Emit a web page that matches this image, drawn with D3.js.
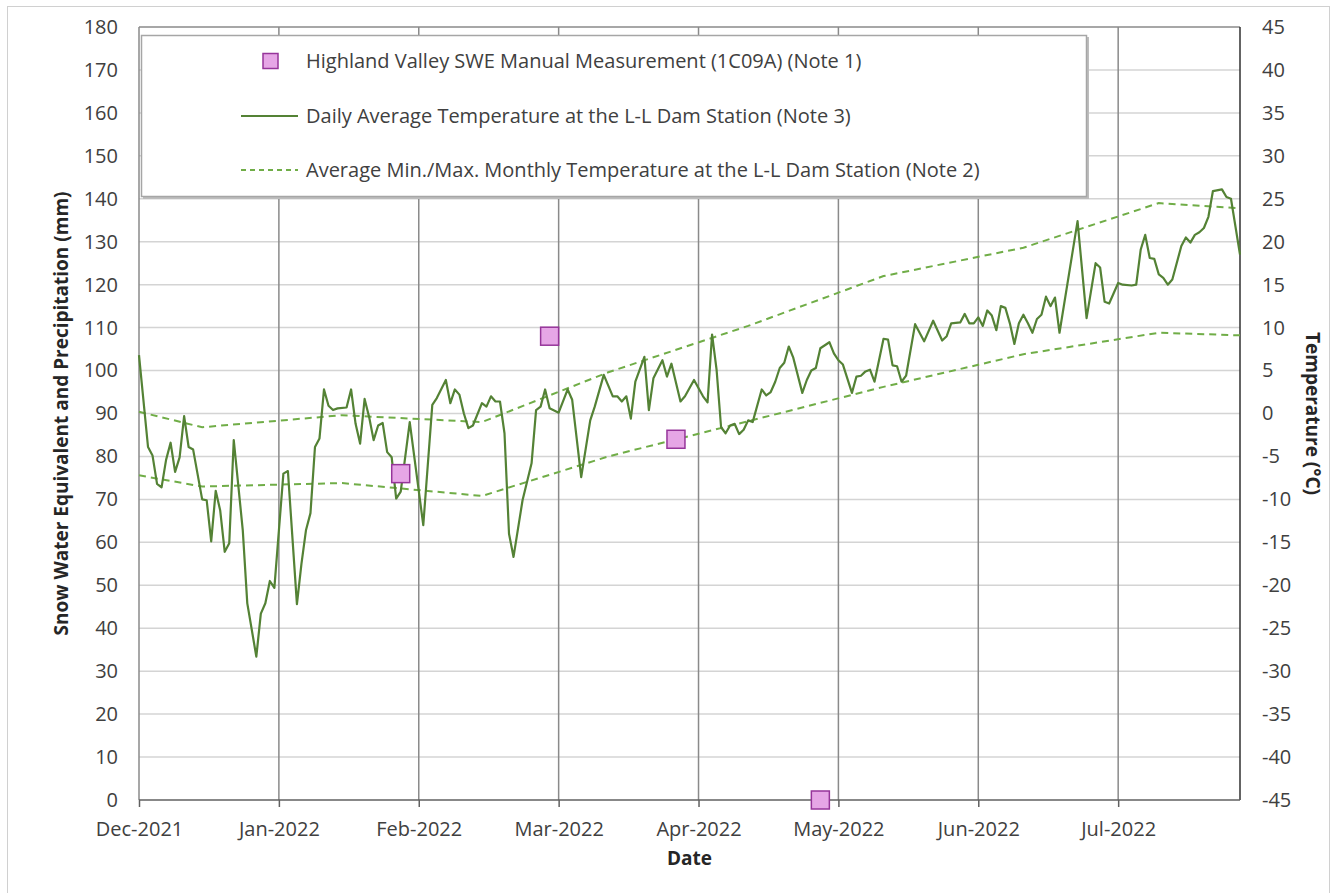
<!DOCTYPE html>
<html>
<head>
<meta charset="utf-8">
<script src="https://cdn.jsdelivr.net/npm/d3@7"></script>
<style>
  body { margin: 0; background: #fff; }
  text { font-family: "Open Sans", sans-serif; }
</style>
</head>
<body>
<svg id="chart" width="1331" height="893"></svg>
<script>
// Daily average temperature at the L-L Dam station (deg C), day = days since 1 Dec 2021
var tempDay = [0, 2, 3, 4, 5, 6, 7, 8, 9, 10, 11, 12, 14, 15, 16, 17, 18, 19, 20, 21, 23, 24, 26, 27, 28, 29, 30,
  32, 33, 35, 36, 37, 38, 39, 40, 41, 42, 43, 44, 46, 47, 48, 49, 50, 51, 52, 53, 54, 55, 56, 57, 58, 60,
  63, 65, 66, 68, 69, 70, 71, 72, 73, 74, 76, 77, 78, 79, 80, 81, 82, 83, 85, 87, 88, 89, 90, 91, 93, 95, 96,
  98, 100, 101, 103, 105, 106, 107, 108, 109, 110, 112, 113, 114, 116, 117, 118, 120, 121, 123, 125, 126,
  127, 128, 129, 130, 131, 132, 133, 134, 135, 136, 138, 139, 140, 141, 142, 143, 144, 145, 147, 148, 149,
  150, 151, 153, 154, 155, 156, 158, 159, 160, 161, 162, 163, 165, 166, 167, 168, 169, 170, 172, 174, 176,
  178, 179, 180, 182, 183, 184, 185, 186, 187, 188, 189, 190, 191, 192, 193, 194, 195, 196, 197, 198, 199,
  200, 201, 202, 203, 204, 208, 210, 212, 213, 214, 215, 216, 217, 218, 220, 221, 222, 223, 224, 225, 226,
  227, 228, 229, 231, 232, 233, 234, 235, 236, 237, 238, 240, 241, 242, 244]
var tempAvg = [6.8, -3.9, -4.9, -8.2, -8.6, -5.4, -3.4, -6.8, -5.1, -0.3, -3.9, -4.2, -10, -10.1, -14.9, -9, -11.3, -16.1, -15.1, -3.1, -13.6, -22.1, -28.3, -23.3, -22.1, -19.5, -20.3,
  -7, -6.7, -22.2, -17.5, -13.6, -11.6, -3.9, -2.9, 2.8, 0.9, 0.4, 0.6, 0.7, 2.8, -1.2, -3.5, 1.7, -0.4, -3.1, -1.4, -1.1, -4.5, -5.1, -9.9, -9.1, -1,
  -13, 1, 1.8, 3.9, 1.2, 2.8, 2.2, 0, -1.7, -1.4, 1.2, 0.8, 2, 1.4, 1.4, -2.3, -14, -16.7, -10.1, -5.8, 0.4, 0.8, 2.8, 0.6, 0.1, 2.8, 1.6,
  -7.4, -0.8, 0.8, 4.5, 2, 2, 1.4, 2, -0.6, 3.7, 6.6, 0.4, 4.1, 6.2, 4.3, 5.8, 1.4, 2, 3.9, 2, 1.3,
  9.2, 5.1, -1.6, -2.3, -1.4, -1.2, -2.4, -1.9, -0.8, -1, 2.8, 2.1, 2.5, 3.7, 5.3, 5.9, 7.8, 6.5, 2.4, 3.9, 5,
  5.3, 7.6, 8.3, 7, 6.2, 5.7, 2.4, 4.3, 4.4, 4.9, 5.1, 3.7, 8.7, 8.6, 5.6, 5.5, 3.7, 4.4, 10.4, 8.4, 10.8,
  8.5, 9, 10.5, 10.6, 11.6, 10.5, 10.5, 11.2, 10.2, 12, 11.4, 9.7, 12.5, 12.3, 10.5, 8.1, 10.5, 11.5, 10.5, 9.4, 11,
  11.5, 13.6, 12.5, 13.5, 9.4, 22.4, 11.1, 17.5, 17, 13, 12.8, 14, 15.2, 15, 14.9, 15, 19.1, 20.8, 18.1, 18, 16.2,
  15.8, 15, 15.6, 19.5, 20.5, 19.9, 20.8, 21.1, 21.6, 22.9, 25.9, 26.1, 25.2, 25, 18.5]

// Average min./max. monthly temperature (deg C)
var monthDates = ["2021-12-01", "2021-12-15", "2022-01-15", "2022-02-15", "2022-03-15", "2022-04-15",
  "2022-05-15", "2022-06-15", "2022-07-15", "2022-08-02"]
var monthMax = [0.2, -1.6, -0.2, -1.0, 4.8, 10.2, 16.0, 19.3, 24.5, 23.9]
var monthMin = [-7.2, -8.5, -8.1, -9.6, -5.0, -0.9, 3.1, 6.9, 9.4, 9.1]

// Highland Valley SWE manual measurements (mm)
var sweDates = ["2022-01-28", "2022-03-02", "2022-03-30", "2022-05-01"]
var sweValues = [76, 108, 84, 0]

// axis ticks
var leftTicks = [0, 10, 20, 30, 40, 50, 60, 70, 80, 90, 100, 110, 120, 130, 140, 150, 160, 170, 180]
var rightTicks = [-45, -40, -35, -30, -25, -20, -15, -10, -5, 0, 5, 10, 15, 20, 25, 30, 35, 40, 45]
var dateTickDays = [0, 31, 62, 93, 124, 155, 186, 217]

var legendLabels = [
  "Highland Valley SWE Manual Measurement (1C09A) (Note 1)",
  "Daily Average Temperature at the L-L Dam Station (Note 3)",
  "Average Min./Max. Monthly Temperature at the L-L Dam Station (Note 2)"
]

var width = 1331
var height = 893
var margin = {top: 27, right: 91, bottom: 93, left: 139}

var lineColor = "#548235"
var dashColor = "#70AD47"

var parse = d3.timeParse("%Y-%m-%d")
var start = new Date(2021, 11, 1)
var dayToDate = d => d3.timeDay.offset(start, d)

let svg = d3.select("#chart")

// outer chart frame
svg.append("rect")
  .attr("x", 7.5).attr("y", 6.5)
  .attr("width", 1322).attr("height", 900)
  .attr("fill", "#fff")
  .attr("stroke", "#d0d0d0")

var x = d3.scaleTime()
  .domain([start, dayToDate(244)])
  .range([margin.left, width - margin.right])

var yL = d3.scaleLinear()
  .domain([0, 180])
  .range([height - margin.bottom, margin.top])

var yR = d3.scaleLinear()
  .domain([-45, 45])
  .range([height - margin.bottom, margin.top])

var x0 = margin.left, x1 = width - margin.right
var y0 = height - margin.bottom, y1 = margin.top

// horizontal gridlines
svg.append("g")
  .selectAll("line")
  .data(leftTicks.filter(d => d > 0 && d < 180))
  .join("line")
  .attr("x1", x0).attr("x2", x1)
  .attr("y1", d => yL(d)).attr("y2", d => yL(d))
  .attr("stroke", "#d4d4d4")
  .attr("stroke-width", 1.5)

// vertical gridlines at the month ticks
svg.append("g")
  .selectAll("line")
  .data(dateTickDays.filter(d => d > 0))
  .join("line")
  .attr("x1", d => x(dayToDate(d))).attr("x2", d => x(dayToDate(d)))
  .attr("y1", y1).attr("y2", y0)
  .attr("stroke", "#8a8a8a")
  .attr("stroke-width", 1.5)

// plot borders
svg.append("line").attr("x1", x0).attr("x2", x1).attr("y1", y1).attr("y2", y1)
  .attr("stroke", "#8a8a8a").attr("stroke-width", 1.5)
svg.append("line").attr("x1", x0).attr("x2", x0).attr("y1", y1).attr("y2", y0)
  .attr("stroke", "#8a8a8a").attr("stroke-width", 1.5)
svg.append("line").attr("x1", x1).attr("x2", x1).attr("y1", y1).attr("y2", y0)
  .attr("stroke", "#303030").attr("stroke-width", 1.5)
svg.append("line").attr("x1", x0).attr("x2", x1).attr("y1", y0).attr("y2", y0)
  .attr("stroke", "#606060").attr("stroke-width", 1.5)

// axes (plain hyphen for negatives, like the original)
var leftAxis = svg.append("g")
  .attr("transform", "translate(" + x0 + ",0)")
  .call(d3.axisLeft(yL).tickValues(leftTicks).tickFormat(d => String(d)).tickSize(0).tickPadding(21))
var rightAxis = svg.append("g")
  .attr("transform", "translate(" + x1 + ",0)")
  .call(d3.axisRight(yR).tickValues(rightTicks).tickFormat(d => String(d)).tickSize(0).tickPadding(22))
var bottomAxis = svg.append("g")
  .attr("transform", "translate(0," + y0 + ")")
  .call(d3.axisBottom(x)
    .tickValues(dateTickDays.map(dayToDate))
    .tickFormat(d3.timeFormat("%b-%Y"))
    .tickSize(7)
    .tickPadding(15))

;[leftAxis, rightAxis, bottomAxis].forEach(function (a) {
  a.select(".domain").remove()
  a.selectAll("text")
    .attr("fill", "#404040")
    .style("font-size", "20px")
    .style("font-family", "'Open Sans', sans-serif")
  a.selectAll(".tick line").attr("stroke", "#606060").attr("stroke-width", 1.5)
})

// axis titles
svg.append("text")
  .attr("transform", "translate(68," + ((y0 + y1) / 2) + ") rotate(-90)")
  .attr("text-anchor", "middle")
  .attr("fill", "#262626")
  .style("font-size", "19px")
  .style("font-weight", "bold")
  .text("Snow Water Equivalent and Precipitation (mm)")

svg.append("text")
  .attr("transform", "translate(1306," + ((y0 + y1) / 2) + ") rotate(90)")
  .attr("text-anchor", "middle")
  .attr("fill", "#262626")
  .style("font-size", "19px")
  .style("font-weight", "bold")
  .text("Temperature (°C)")

svg.append("text")
  .attr("x", (x0 + x1) / 2)
  .attr("y", 865)
  .attr("text-anchor", "middle")
  .attr("fill", "#262626")
  .style("font-size", "19px")
  .style("font-weight", "bold")
  .text("Date")

// min / max monthly temperature
var monthLine = d3.line()
  .x((d, i) => x(parse(monthDates[i])))
  .y(d => yR(d))

svg.append("path")
  .attr("d", monthLine(monthMax))
  .attr("fill", "none")
  .attr("stroke", dashColor)
  .attr("stroke-width", 2)
  .attr("stroke-dasharray", "7,5")

svg.append("path")
  .attr("d", monthLine(monthMin))
  .attr("fill", "none")
  .attr("stroke", dashColor)
  .attr("stroke-width", 2)
  .attr("stroke-dasharray", "7,5")

// daily average temperature
svg.append("path")
  .attr("d", d3.line()
    .x((d, i) => x(dayToDate(tempDay[i])))
    .y(d => yR(d))(tempAvg))
  .attr("fill", "none")
  .attr("stroke", lineColor)
  .attr("stroke-width", 2.2)
  .attr("stroke-linejoin", "round")

// SWE manual measurements
svg.append("g")
  .selectAll("rect")
  .data(sweValues)
  .join("rect")
  .attr("x", (d, i) => x(parse(sweDates[i])) - 9)
  .attr("y", d => yL(d) - 9)
  .attr("width", 18)
  .attr("height", 18)
  .attr("fill", "#E6A6E6")
  .attr("stroke", "#96359A")
  .attr("stroke-width", 1.5)

// legend
var legend = svg.append("g")

legend.append("rect")
  .attr("x", 143).attr("y", 37)
  .attr("width", 946).attr("height", 162)
  .attr("fill", "#bdbdbd")
legend.append("rect")
  .attr("x", 141.5).attr("y", 35.5)
  .attr("width", 945).attr("height", 161)
  .attr("fill", "#fff")
  .attr("stroke", "#a6a6a6")
  .attr("stroke-width", 1.5)

var rowY = [61, 116, 170]

legend.append("rect")
  .attr("x", 263).attr("y", rowY[0] - 7.5)
  .attr("width", 15).attr("height", 15)
  .attr("fill", "#E6A6E6")
  .attr("stroke", "#96359A")
  .attr("stroke-width", 1.5)

legend.append("line")
  .attr("x1", 241).attr("x2", 298)
  .attr("y1", rowY[1]).attr("y2", rowY[1])
  .attr("stroke", lineColor)
  .attr("stroke-width", 2)

legend.append("line")
  .attr("x1", 241).attr("x2", 298)
  .attr("y1", rowY[2]).attr("y2", rowY[2])
  .attr("stroke", dashColor)
  .attr("stroke-width", 2)
  .attr("stroke-dasharray", "5,4")

legend.selectAll(".label")
  .data(legendLabels)
  .join("text")
  .attr("class", "label")
  .attr("x", 306)
  .attr("y", (d, i) => rowY[i])
  .attr("dy", "0.35em")
  .attr("fill", "#404040")
  .style("font-size", "20px")
  .text(d => d)
</script>
</body>
</html>
